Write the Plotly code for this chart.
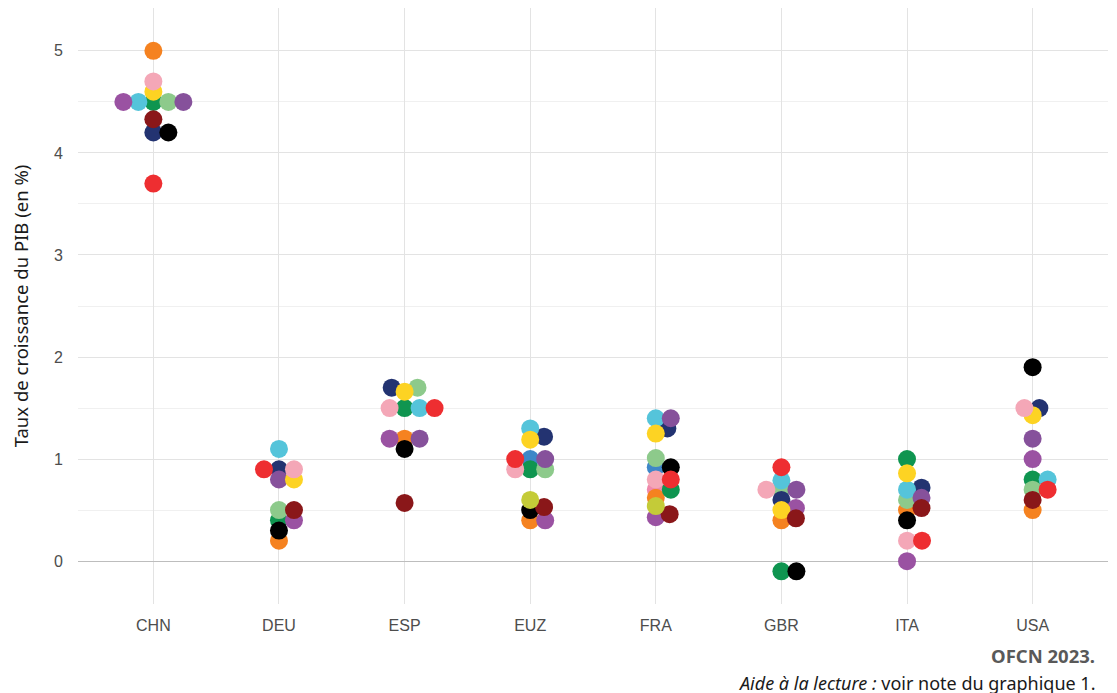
import math
import plotly.graph_objects as go

# ---------------- data ----------------
countries = ["CHN", "DEU", "ESP", "EUZ", "FRA", "GBR", "ITA", "USA"]

# one list per forecaster (values in %, None = no forecast)
prev_rose_vif = [None, None, None, None, 0.70, None, None, None]
prev_orange = [5.00, 0.20, 1.20, 0.40, 0.62, 0.40, 0.50, 0.50]
prev_bleu = [None, None, None, 1.00, 0.92, None, None, None]
prev_vert = [4.50, 0.40, 1.50, 0.90, 0.70, -0.10, 1.00, 0.80]
prev_vert_clair = [4.50, 0.50, 1.70, 0.90, 1.01, 0.70, 0.60, 0.70]
prev_bleu_nuit = [4.20, 0.90, 1.70, 1.22, 1.30, 0.60, 0.72, 1.50]
prev_noir = [4.20, 0.30, 1.10, 0.50, 0.92, -0.10, 0.40, 1.90]
prev_cyan = [4.50, 1.10, 1.50, 1.30, 1.40, 0.79, 0.70, 0.80]
prev_violet_fonce = [4.50, 0.80, 1.20, 1.00, 1.40, 0.70, 0.62, 1.20]
prev_violet = [4.50, 0.40, 1.20, 0.40, 0.43, 0.52, 0.00, 1.00]
prev_jaune = [4.60, 0.80, 1.66, 1.19, 1.25, 0.50, 0.86, 1.43]
prev_rose = [4.70, 0.90, 1.50, 0.90, 0.80, 0.70, 0.20, 1.50]
prev_rouge = [3.70, 0.90, 1.50, 1.00, 0.80, 0.92, 0.20, 0.70]
prev_bordeaux = [4.33, 0.50, 0.57, 0.53, 0.46, 0.42, 0.52, 0.60]
prev_vert_jaune = [None, None, None, 0.60, 0.54, None, None, None]

y_ticks = [0, 1, 2, 3, 4, 5]

series = [
    ("rose vif", "#F088AB", prev_rose_vif),
    ("orange", "#F58220", prev_orange),
    ("bleu", "#3E87C8", prev_bleu),
    ("vert", "#0F9550", prev_vert),
    ("vert clair", "#8DCA8B", prev_vert_clair),
    ("bleu nuit", "#233371", prev_bleu_nuit),
    ("noir", "#000000", prev_noir),
    ("cyan", "#55C4DA", prev_cyan),
    ("violet foncé", "#86519B", prev_violet_fonce),
    ("violet", "#9A52A2", prev_violet),
    ("jaune", "#FDD323", prev_jaune),
    ("rose", "#F4A7B7", prev_rose),
    ("rouge", "#EE2E31", prev_rouge),
    ("bordeaux", "#8A1719", prev_bordeaux),
    ("vert-jaune", "#C4CB38", prev_vert_jaune),
]

# ---------------- layout geometry ----------------
W, H = 1117, 693
M_L, M_R, M_T, M_B = 70, 17, 0, 97
PLOT_W = W - M_L - M_R
PLOT_H = H - M_T - M_B
X_RANGE = [-0.6, len(countries) - 0.4]
Y_RANGE = [-0.42, 5.42]
px_per_x = PLOT_W / (X_RANGE[1] - X_RANGE[0])
px_per_y = PLOT_H / (Y_RANGE[1] - Y_RANGE[0])

# beeswarm (swarm) offsets, computed in pixel space
DX, DY = 15.0, 8.0


def swarm_offsets(vals):
    items = sorted([(v, k) for k, v in enumerate(vals) if v is not None])
    placed = []
    out = {}
    for v, k in items:
        y = v * px_per_y
        cands = [0.0]
        for (px, py) in placed:
            d = abs(y - py)
            if d < DY:
                off = DX * math.sqrt(1 - (d / DY) ** 2)
                cands += [px + off, px - off]
        valid = [c for c in cands
                 if all(((c - px) / DX) ** 2 + ((y - py) / DY) ** 2 >= 1 - 1e-9
                        for (px, py) in placed)]
        best = min(valid, key=lambda c: (round(abs(c), 6), -c))
        placed.append((best, y))
        out[k] = best / px_per_x
    return out


offsets = {}
for ci, c in enumerate(countries):
    col = [s[2][ci] for s in series]
    offsets[ci] = swarm_offsets(col)

fig = go.Figure()
for si, (name, color, vals) in enumerate(series):
    xs, ys = [], []
    for ci, v in enumerate(vals):
        if v is None:
            continue
        xs.append(ci + offsets[ci][si])
        ys.append(v)
    fig.add_trace(go.Scatter(
        x=xs, y=ys, mode="markers", name=name,
        marker=dict(size=18, color=color, line=dict(width=0)),
        showlegend=False, hoverinfo="skip",
    ))

fig.update_layout(
    width=W, height=H,
    margin=dict(l=M_L, r=M_R, t=M_T, b=M_B, autoexpand=False),
    plot_bgcolor="white", paper_bgcolor="white",
    font=dict(family="Liberation Sans, Arial, sans-serif", size=15, color="#4d4d4d"),
    xaxis=dict(
        range=X_RANGE, tickmode="array",
        tickvals=list(range(len(countries))), ticktext=countries,
        showgrid=True, gridcolor="#e3e3e3", gridwidth=1,
        zeroline=False, showline=False, ticks="",
        ticklabelstandoff=10,
        tickfont=dict(size=16, color="#4d4d4d"),
    ),
    yaxis=dict(
        range=Y_RANGE, tickmode="array", tickvals=y_ticks,
        showgrid=True, gridcolor="#e3e3e3", gridwidth=1,
        minor=dict(dtick=0.5, tick0=0, showgrid=True, gridcolor="#f0f0f0", gridwidth=1),
        zeroline=True, zerolinecolor="#bdbdbd", zerolinewidth=1,
        showline=False, ticks="",
        ticklabelstandoff=14,
        tickfont=dict(size=16, color="#4d4d4d"),
        automargin=False,
        title=dict(text="Taux de croissance du PIB (en %)",
                   font=dict(family="Noto Sans, sans-serif", size=18.5, color="#1a1a1a"),
                   standoff=20),
    ),
)

fig.add_annotation(
    text="<b>OFCN 2023.</b>", xref="paper", yref="paper",
    x=(1089 - M_L) / PLOT_W, y=-51 / PLOT_H, xanchor="right", yanchor="middle",
    showarrow=False, font=dict(family="Noto Sans, sans-serif", size=18.5, color="#595959"),
)
fig.add_annotation(
    text="<i>Aide à la lecture :</i> voir note du graphique 1.",
    xref="paper", yref="paper",
    x=(1089 - M_L) / PLOT_W, y=-79 / PLOT_H, xanchor="right", yanchor="middle",
    showarrow=False, font=dict(family="Noto Sans, sans-serif", size=18, color="#1a1a1a"),
)

fig.write_html("out.html")
